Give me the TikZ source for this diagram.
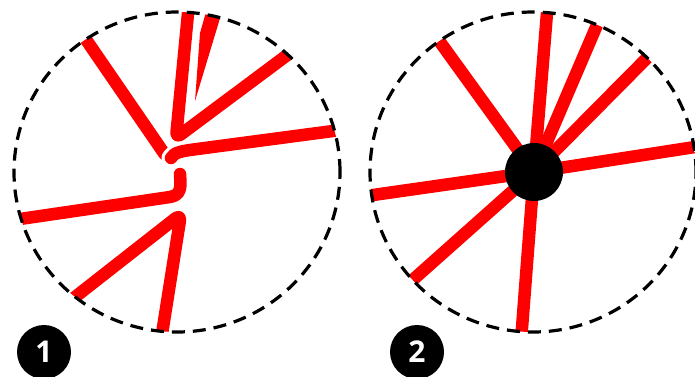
\documentclass[tikz,border=0pt]{standalone}
\usepackage{fontspec}
\setmainfont{Open Sans}
\begin{document}
\begin{tikzpicture}[x=1pt,y=-1pt,
  redline/.style={draw=red, line width=12.5pt, line cap=round, line join=round},
  halo/.style={draw=white, line width=19pt, line cap=round, line join=round},
  ring/.style={draw=black, line width=3.2pt, dash pattern=on 13pt off 8pt},
  badge/.style={circle, fill=black, text=white, minimum size=54pt, inner sep=0pt,
    font=\fontsize{30}{30}\selectfont\bfseries},
  hubnode/.style={circle, fill=black, minimum size=58pt, inner sep=0pt}]
\useasboundingbox (0,0) rectangle (695,376);

% ---------- picture 1 ----------
\coordinate (c1) at (177,172);
\coordinate (wa) at (208,5);
\coordinate (wb) at (224,5);
\coordinate (wc) at (195,101);
\coordinate (wd) at (200,33);
\coordinate (ula) at (79.3,29.8);
\coordinate (ulb) at (164.5,154);
\coordinate (ja) at (5,221.2);
\coordinate (jb) at (168,197.3);
\coordinate (jc) at (180.5,182);
\coordinate (jd) at (180,174);
\coordinate (bva) at (70,301);
\coordinate (bvb) at (181,214);
\coordinate (bvc) at (161,340);
\coordinate (ha) at (345,129.4);
\coordinate (hb) at (195,149.3);
\coordinate (hc) at (171,158);
\coordinate (tva) at (189.3,0);
\coordinate (tvb) at (176,138);
\coordinate (tvc) at (298,47);
\begin{scope}
  \clip (c1) ellipse [x radius=163pt, y radius=160pt];
  % wedge
  \filldraw[white, line width=6pt, line join=round] (wa) -- (wb) -- (wc) -- (wd) -- cycle;
  \fill[red] (wa) -- (wb) -- (wc) -- (wd) -- cycle;
  % upper-left
  \draw[halo] (ula) -- (ulb);
  \draw[redline] (ula) -- (ulb);
  % left J
  \draw[halo] (ja) -- (jb) .. controls (178,196) and (180.5,192) .. (jc) -- (jd);
  \draw[redline] (ja) -- (jb) .. controls (178,196) and (180.5,192) .. (jc) -- (jd);
  % bottom inverted V
  \draw[halo, rounded corners=7pt] (bva) -- (bvb) -- (bvc);
  \draw[redline, rounded corners=7pt] (bva) -- (bvb) -- (bvc);
  % right hook
  \draw[halo] (ha) -- (hb) .. controls (183,151) and (174,152) .. (hc);
  \draw[redline] (ha) -- (hb) .. controls (183,151) and (174,152) .. (hc);
  % top V
  \draw[halo, rounded corners=6pt] (tva) -- (tvb) -- (tvc);
  \draw[redline, rounded corners=6pt] (tva) -- (tvb) -- (tvc);
\end{scope}
\draw[ring] (c1) ellipse [x radius=163pt, y radius=160pt];

% ---------- picture 2 ----------
\coordinate (c2) at (533,172);
\coordinate (hcen) at (534,172);
\coordinate (r1) at (430.6,29);
\coordinate (r2) at (548.3,-3);
\coordinate (r3) at (603.3,10.3);
\coordinate (r4) at (658.3,46.6);
\coordinate (r5) at (711,144.5);
\coordinate (r6) at (356.9,197.3);
\coordinate (r7) at (403,288.6);
\coordinate (r8) at (520.8,343.6);
\begin{scope}
  \clip (c2) ellipse [x radius=163pt, y radius=160pt];
  \foreach \e in {r1,r2,r3,r4,r5,r6,r7,r8}
    \draw[redline] (hcen) -- (\e);
\end{scope}
\node[hubnode] (hub) at (hcen) {};
\draw[ring] (c2) ellipse [x radius=163pt, y radius=160pt];

% ---------- badges ----------
\node[badge] (b1) at (44,352) {1};
\node[badge] (b2) at (417,352) {2};
\end{tikzpicture}
\end{document}
